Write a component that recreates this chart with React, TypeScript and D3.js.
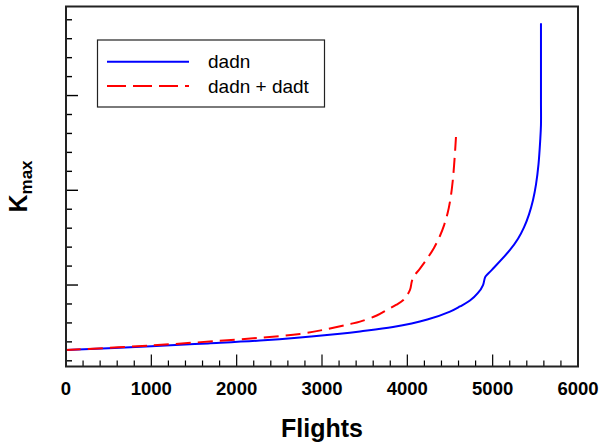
import React from 'react';
import * as d3 from 'd3';

// values
const blueFlights = [0, 1000, 1664, 2273, 2742, 3211, 3445, 3832, 4234, 4500, 4617, 4734, 4828, 4887, 4905, 4916, 4988, 5203, 5297, 5367, 5426, 5473, 5508, 5537, 5557, 5566, 5566, 5566];
const blueK = [6.57, 6.77, 6.92, 7.07, 7.23, 7.43, 7.55, 7.78, 8.18, 8.6, 8.87, 9.18, 9.58, 10.0, 10.32, 10.45, 10.79, 11.85, 12.44, 13.04, 13.73, 14.49, 15.31, 16.37, 17.62, 18.44, 19.8, 23.81];

const redFlights = [0, 1000, 2273, 2742, 3035, 3328, 3445, 3641, 3758, 3867, 3953, 4031, 4051, 4070, 4148, 4242, 4312, 4383, 4430, 4471, 4506, 4532, 4553, 4570];
const redK = [6.57, 6.81, 7.22, 7.42, 7.65, 7.94, 8.07, 8.39, 8.68, 8.95, 9.21, 9.74, 10.16, 10.41, 10.87, 11.46, 11.96, 12.6, 13.15, 13.77, 14.57, 15.49, 16.63, 17.81];

const xTickLabels = [0, 1000, 2000, 3000, 4000, 5000, 6000];
const yMajorTicks = [10, 15, 20];

const seriesNames = ['dadn', 'dadn + dadt'];

const width = 604;
const height = 442;
const font = 'Liberation Sans, Arial, Helvetica, sans-serif';

const App = () => {
  const x = d3.scaleLinear([0, 6000], [66, 578]);
  const y = d3.scaleLinear([5.7, 24.7], [366.5, 6.5]);

  const line = d3.line<[number, number]>()
    .x(d => x(d[0]))
    .y(d => y(d[1]))
    .curve(d3.curveCatmullRom.alpha(0.5));

  const blue = blueFlights.map((f, i) => [f, blueK[i]] as [number, number]);
  const red = redFlights.map((f, i) => [f, redK[i]] as [number, number]);

  const xMinor = d3.range(0, 6001, 200);
  const yMinor = d3.range(6, 25, 1);

  const [x0, x1] = x.range();
  const [y0, y1] = y.range();

  return (
    <svg width={width} height={height} style={{ position: 'absolute', left: 0, top: 0, background: '#fff' }}>
      {/* x ticks, pointing inward */}
      {xMinor.map(t => (
        <line key={'xm' + t} x1={x(t)} x2={x(t)} y1={y0} y2={y0 - (t % 1000 === 0 ? 12 : 6)} stroke="#000" strokeWidth={1.2} />
      ))}
      {yMinor.map(t => (
        <line key={'ym' + t} x1={x0} x2={x0 + (yMajorTicks.includes(t) ? 12 : 6)} y1={y(t)} y2={y(t)} stroke="#000" strokeWidth={1.4} />
      ))}
      {xTickLabels.map(t => (
        <text key={'xl' + t} x={x(t)} y={395} textAnchor="middle" fontFamily={font} fontWeight="bold" fontSize={18.5}>{t}</text>
      ))}

      <path d={line(blue) || ''} fill="none" stroke="#0000ff" strokeWidth={2} />
      <path d={line(red) || ''} fill="none" stroke="#ff0000" strokeWidth={2} strokeDasharray="15,7" />

      <rect x={x0} y={y1} width={x1 - x0} height={y0 - y1} fill="none" stroke="#222" strokeWidth={2} />

      {/* legend */}
      <rect x={97.5} y={40} width={227} height={67} fill="#fff" stroke="#222" strokeWidth={1.2} />
      <line x1={107} x2={189} y1={61.7} y2={61.7} stroke="#0000ff" strokeWidth={2} />
      <line x1={107} x2={189} y1={86} y2={86} stroke="#ff0000" strokeWidth={2} strokeDasharray="19,7" />
      <text x={208} y={68.3} fontFamily={font} fontSize={19}>{seriesNames[0]}</text>
      <text x={208} y={92.6} fontFamily={font} fontSize={19}>{seriesNames[1]}</text>

      {/* axis titles */}
      <text x={(x0 + x1) / 2} y={437} textAnchor="middle" fontFamily={font} fontWeight="bold" fontSize={25}>Flights</text>
      <text transform={`translate(27,${(y0 + y1) / 2}) rotate(-90)`} textAnchor="middle" fontFamily={font} fontWeight="bold" fontSize={25}>
        K<tspan fontSize={17} dy={5}>max</tspan>
      </text>
    </svg>
  );
};

export default App;
